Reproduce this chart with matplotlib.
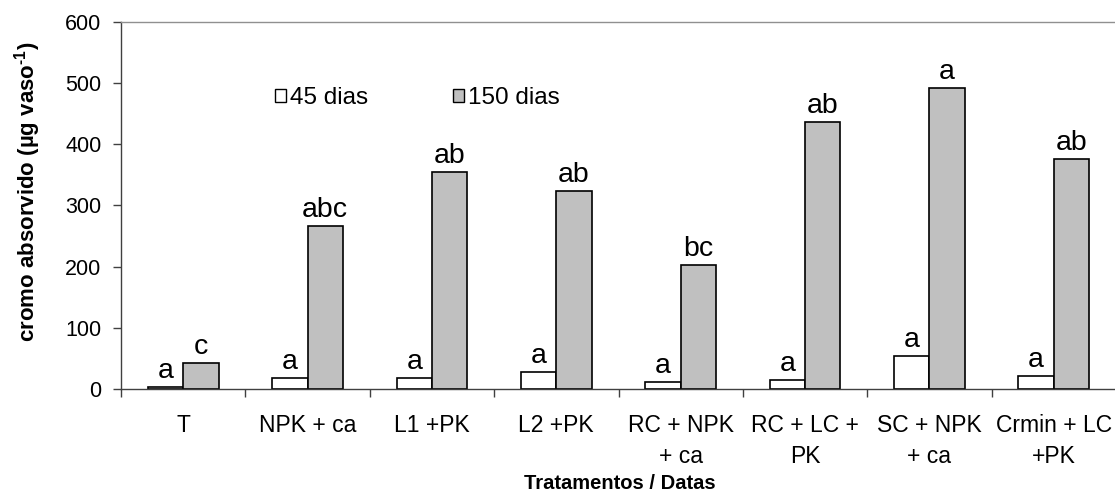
import matplotlib
matplotlib.use("Agg")
import matplotlib.pyplot as plt
from matplotlib.patches import Patch
import numpy as np

plt.rcParams['font.family'] = ['Liberation Sans', 'DejaVu Sans']

# Treatments and chromium uptake (µg per pot) at two sampling dates
tratamentos = ["T", "NPK + ca", "L1 +PK", "L2 +PK", "RC + NPK\n+ ca",
               "RC + LC +\nPK", "SC + NPK\n+ ca", "Crmin + LC\n+PK"]
dias_45 = [3, 18, 18, 27, 12, 15, 54, 21]
dias_150 = [42, 266, 354, 323, 203, 436, 491, 376]
letras_45 = ["a", "a", "a", "a", "a", "a", "a", "a"]
letras_150 = ["c", "abc", "ab", "ab", "bc", "ab", "a", "ab"]
y_ticks = [0, 100, 200, 300, 400, 500, 600]

fig = plt.figure(figsize=(11.15, 4.94), dpi=100)
ax = fig.add_axes([121 / 1115, 105 / 494, 995 / 1115, 367.4 / 494])

x = np.arange(len(tratamentos))
w = 0.284
b45 = ax.bar(x - w / 2, dias_45, w, color="white", edgecolor="black", linewidth=1.2)
b150 = ax.bar(x + w / 2, dias_150, w, color="#C0C0C0", edgecolor="black", linewidth=1.2)

# Significance letters above each bar
for bars, letras in ((b45, letras_45), (b150, letras_150)):
    for rect, txt in zip(bars, letras):
        ax.annotate(txt, (rect.get_x() + rect.get_width() / 2, rect.get_height()),
                    xytext=(0, 6.5), textcoords="offset points",
                    ha="center", va="baseline", fontsize=20.5)

ax.set_xlim(-0.5, len(tratamentos) - 0.5)
ax.set_ylim(0, 600)
ax.set_yticks(y_ticks)
ax.set_yticklabels([str(v) for v in y_ticks])

# Ticks between groups, labels centred under each group
ax.set_xticks(np.arange(-0.5, len(tratamentos) + 0.5, 1.0))
ax.set_xticklabels([])
ax.set_xticks(x, minor=True)
ax.set_xticklabels(tratamentos, minor=True, linespacing=1.45)
ax.tick_params(axis="x", which="major", direction="out", length=6, width=1, color="#404040")
ax.tick_params(axis="x", which="minor", length=0, pad=18, labelsize=16.5)
ax.tick_params(axis="y", direction="out", length=6, width=1, color="#404040",
               pad=8, labelsize=15.5)

for s in ("left", "bottom"):
    ax.spines[s].set_color("#404040")
    ax.spines[s].set_linewidth(1.0)
ax.spines["top"].set_color("#909090")
ax.spines["top"].set_linewidth(1.0)
ax.spines["right"].set_visible(False)

ax.set_ylabel("cromo absorvido (µg vaso$^{\\mathregular{\u20101}}$)",
              fontsize=16, fontweight="bold")
ax.yaxis.set_label_coords((43 - 121) / 995, 0.5375)
fig.text(620 / 1115, 5 / 494, "Tratamentos / Datas", ha="center", va="baseline",
         fontsize=14.5, fontweight="bold")

handles = [Patch(facecolor="white", edgecolor="black", linewidth=1.0),
           Patch(facecolor="#C0C0C0", edgecolor="black", linewidth=1.0)]
ax.legend(handles, ["45 dias", "150 dias"], ncol=2, frameon=False,
          loc="center left", bbox_to_anchor=(0.143, 0.792), borderpad=0,
          handlelength=0.45, handleheight=0.45, handletextpad=0.15,
          columnspacing=3.5, fontsize=17.5)

fig.savefig("out.png", dpi=100)
